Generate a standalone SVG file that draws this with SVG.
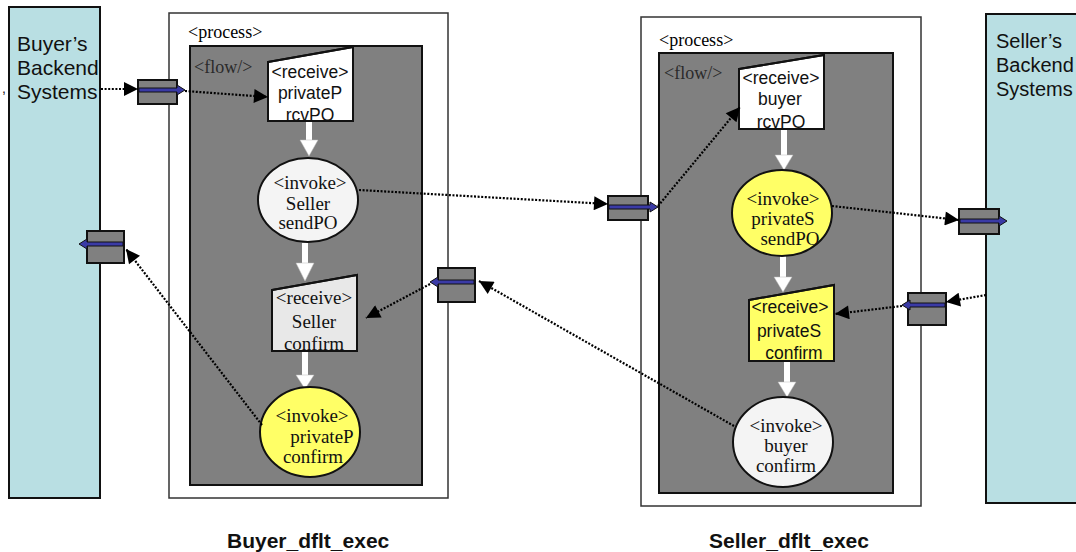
<svg xmlns="http://www.w3.org/2000/svg" width="1076" height="552" viewBox="0 0 1076 552">
<defs>
<style>
.backend{fill:#b9dfe3;stroke:#111;stroke-width:2}
.proc{fill:#fff;stroke:#333;stroke-width:1.5}
.flow{fill:#808080;stroke:#111;stroke-width:2}
.sans{font-family:"Liberation Sans",Arial,sans-serif}
.serif{font-family:"Liberation Serif","Times New Roman",serif}
.lbl{font-size:18px;fill:#000}
.flowlbl{font-size:18px;fill:#2a2a2a}
.bk{font-size:21px;fill:#111}
.node{stroke:#111;stroke-width:2}
.nt{font-size:19px;fill:#111;text-anchor:middle}
.ntr{font-size:17.5px;fill:#111;text-anchor:middle}
.port{fill:#808080;stroke:#111;stroke-width:2}
.blue{fill:#3a3aa6;stroke:#111;stroke-width:1}
.dot{fill:none;stroke:#000;stroke-width:2.2;stroke-dasharray:2 1.6;marker-end:url(#ah)}
.wa{stroke:#fff;stroke-width:6}
.wh{fill:#fff;stroke:#bbb;stroke-width:0.5}
.title{font-size:21px;font-weight:bold;fill:#111}
</style>
<marker id="ah" viewBox="0 0 10 10" refX="10" refY="5" markerWidth="15" markerHeight="14" markerUnits="userSpaceOnUse" orient="auto">
<path d="M0,0 L10,5 L0,10 Z" fill="#000"/>
</marker>
<clipPath id="c1"><path d="M268,62 L353,47 L353,121 L268,121 Z"/></clipPath>
<clipPath id="c2"><path d="M272,290 L357,275 L357,351 L272,351 Z"/></clipPath>
<clipPath id="c3"><path d="M739,69 L824,55 L824,129 L739,129 Z"/></clipPath>
<clipPath id="c4"><path d="M749,300 L834,285 L834,361 L749,361 Z"/></clipPath>
</defs>

<g id="buyer-backend">
<rect class="backend" x="9" y="7" width="91" height="491"/>
<text class="sans bk" x="17" y="51">Buyer’s</text>
<text class="sans bk" x="17" y="75">Backend</text>
<text class="sans bk" x="17" y="99">Systems</text>
<text class="sans" x="2" y="93" font-size="14" fill="#111">,</text>
</g>

<g id="seller-backend">
<rect class="backend" x="986" y="14" width="100" height="489"/>
<text class="sans bk" x="996" y="48" style="font-size:20px">Seller’s</text>
<text class="sans bk" x="996" y="72" style="font-size:20px">Backend</text>
<text class="sans bk" x="996" y="96" style="font-size:20px">Systems</text>
</g>

<g id="buyer-process">
<rect class="proc" x="169" y="13" width="279" height="485"/>
<text class="serif lbl" x="188" y="38">&lt;process&gt;</text>
<rect class="flow" x="190" y="46" width="232" height="439"/>
<text class="serif flowlbl" x="194" y="73">&lt;flow/&gt;</text>
</g>

<g id="seller-process">
<rect class="proc" x="641" y="17" width="280" height="489"/>
<text class="serif lbl" x="659" y="46">&lt;process&gt;</text>
<rect class="flow" x="659" y="53" width="234" height="440"/>
<text class="serif flowlbl" x="664" y="79">&lt;flow/&gt;</text>
</g>

<g id="flow-arrows">
<line class="wa" x1="309" y1="122" x2="309" y2="142"/>
<path class="wh" d="M300,140 L318,140 L309,156 Z"/>
<line class="wa" x1="305" y1="243" x2="305" y2="265"/>
<path class="wh" d="M296,263 L314,263 L305,281 Z"/>
<line class="wa" x1="305" y1="352" x2="305" y2="377"/>
<path class="wh" d="M296,375 L314,375 L305,389 Z"/>
<line class="wa" x1="784" y1="130" x2="784" y2="157"/>
<path class="wh" d="M775,155 L793,155 L784,170 Z"/>
<line class="wa" x1="783" y1="256" x2="783" y2="279"/>
<path class="wh" d="M774,277 L792,277 L783,292 Z"/>
<line class="wa" x1="787" y1="362" x2="787" y2="384"/>
<path class="wh" d="M778,382 L796,382 L787,397 Z"/>
</g>

<g id="n-buyer-rcvPO">
<path class="node" d="M268,62 L353,47 L353,121 L268,121 Z" fill="#fff"/>
<g clip-path="url(#c1)">
<text class="sans ntr" x="310" y="78">&lt;receive&gt;</text>
<text class="sans ntr" x="310" y="99">privateP</text>
<text class="sans ntr" x="310" y="121">rcvPO</text>
</g>
<path d="M268,62 L353,47 L353,121 L268,121 Z" fill="none" stroke="#111" stroke-width="2"/>
</g>

<g id="n-buyer-sendPO">
<ellipse class="node" cx="308" cy="200" rx="50" ry="42" fill="#f4f4f4"/>
<text class="serif nt" x="310" y="189">&lt;invoke&gt;</text>
<text class="serif nt" x="308" y="210">Seller</text>
<text class="serif nt" x="308" y="229">sendPO</text>
</g>

<g id="n-buyer-confirm-rcv">
<path class="node" d="M272,290 L357,275 L357,351 L272,351 Z" fill="#e8e8e8"/>
<g clip-path="url(#c2)">
<text class="serif nt" x="314" y="304">&lt;receive&gt;</text>
<text class="serif nt" x="314" y="328">Seller</text>
<text class="serif nt" x="314" y="350">confirm</text>
</g>
<path d="M272,290 L357,275 L357,351 L272,351 Z" fill="none" stroke="#111" stroke-width="2"/>
</g>

<g id="n-buyer-privateP-confirm">
<ellipse class="node" cx="310" cy="432" rx="50" ry="45" fill="#ffff66"/>
<text class="serif nt" x="312" y="422">&lt;invoke&gt;</text>
<text class="serif nt" x="322" y="443">privateP</text>
<text class="serif nt" x="313" y="463">confirm</text>
</g>

<g id="n-seller-rcvPO">
<path class="node" d="M739,69 L824,55 L824,129 L739,129 Z" fill="#fff"/>
<g clip-path="url(#c3)">
<text class="sans ntr" x="781" y="84">&lt;receive&gt;</text>
<text class="sans ntr" x="780" y="105">buyer</text>
<text class="sans ntr" x="781" y="128">rcvPO</text>
</g>
<path d="M739,69 L824,55 L824,129 L739,129 Z" fill="none" stroke="#111" stroke-width="2"/>
</g>

<g id="n-seller-privateS-sendPO">
<ellipse class="node" cx="782" cy="213" rx="50" ry="43" fill="#ffff66"/>
<text class="serif nt" x="783" y="205">&lt;invoke&gt;</text>
<text class="serif nt" x="783" y="225">privateS</text>
<text class="serif nt" x="790" y="245">sendPO</text>
</g>

<g id="n-seller-privateS-confirm">
<path class="node" d="M749,300 L834,285 L834,361 L749,361 Z" fill="#ffff66"/>
<g clip-path="url(#c4)">
<text class="sans ntr" x="790" y="313">&lt;receive&gt;</text>
<text class="sans ntr" x="789" y="337">privateS</text>
<text class="sans ntr" x="794" y="359">confirm</text>
</g>
<path d="M749,300 L834,285 L834,361 L749,361 Z" fill="none" stroke="#111" stroke-width="2"/>
</g>

<g id="n-seller-buyer-confirm">
<ellipse class="node" cx="783" cy="442" rx="50" ry="45" fill="#f4f4f4"/>
<text class="serif nt" x="786" y="432">&lt;invoke&gt;</text>
<text class="serif nt" x="786" y="452">buyer</text>
<text class="serif nt" x="786" y="472">confirm</text>
</g>

<g id="ports">
<rect class="port" x="138" y="80" width="39" height="24"/>
<path class="blue" d="M139,88 L177,88 L177,85 L185,90 L177,95 L177,92 L139,92 Z"/>
<rect class="port" x="608" y="196" width="40" height="24"/>
<path class="blue" d="M609,205 L650,205 L650,202 L658,207 L650,212 L650,209 L609,209 Z"/>
<rect class="port" x="438" y="268" width="37" height="34"/>
<path class="blue" d="M474,280 L438,280 L438,277 L430,282 L438,287 L438,284 L474,284 Z"/>
<rect class="port" x="87" y="231" width="37" height="32"/>
<path class="blue" d="M123,242 L87,242 L87,239 L79,244 L87,249 L87,246 L123,246 Z"/>
<rect class="port" x="959" y="209" width="40" height="25"/>
<path class="blue" d="M960,219 L999,219 L999,216 L1007,221 L999,226 L999,223 L960,223 Z"/>
<rect class="port" x="908" y="293" width="38" height="32"/>
<path class="blue" d="M945,303 L910,303 L910,300 L902,305 L910,310 L910,307 L945,307 Z"/>
</g>

<g id="connectors">
<line class="dot" x1="101" y1="89" x2="138" y2="89"/>
<line class="dot" x1="185" y1="91" x2="268" y2="97"/>
<line class="dot" x1="359" y1="190" x2="608" y2="204"/>
<line class="dot" x1="658" y1="206" x2="740" y2="107"/>
<line class="dot" x1="832" y1="206" x2="959" y2="220"/>
<line class="dot" x1="986" y1="295" x2="946" y2="302"/>
<line class="dot" x1="902" y1="306" x2="835" y2="314"/>
<line class="dot" x1="734" y1="426" x2="479" y2="281"/>
<line class="dot" x1="430" y1="284" x2="366" y2="318"/>
<line class="dot" x1="262" y1="425" x2="126" y2="249"/>
</g>

<g id="titles">
<text class="sans title" x="227" y="548">Buyer_dflt_exec</text>
<text class="sans title" x="709" y="548">Seller_dflt_exec</text>
</g>
</svg>
